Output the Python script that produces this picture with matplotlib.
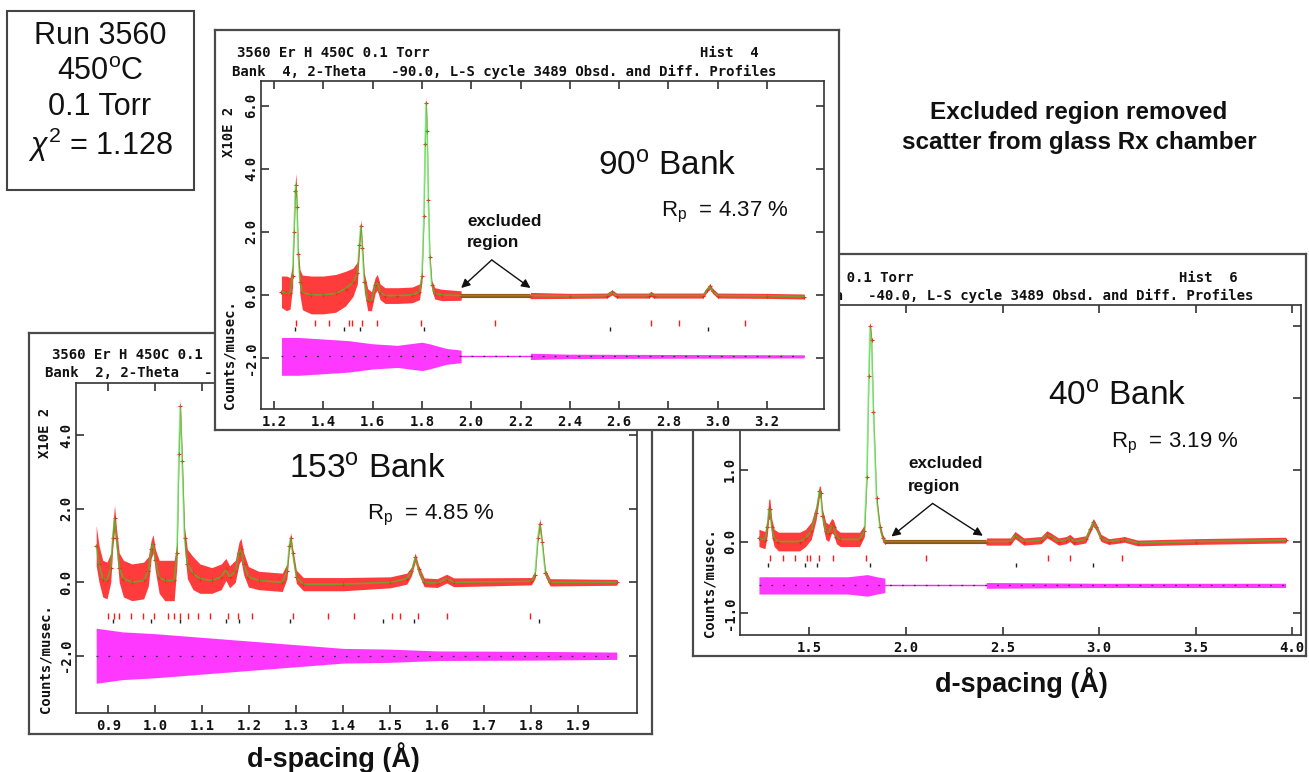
import numpy as np
import matplotlib
matplotlib.use("Agg")
import matplotlib.pyplot as plt
from matplotlib.patches import Rectangle

# ============================ DATA ============================
# ---- 153 degree bank (values in units of 10^2 counts/musec) ----
b153_d = [0.874, 0.880, 0.888, 0.897, 0.905, 0.909, 0.913, 0.917, 0.923, 0.932,
          0.950, 0.975, 0.985, 0.991, 0.995, 1.000, 1.008, 1.020, 1.040, 1.046,
          1.050, 1.053, 1.057, 1.062, 1.068, 1.080, 1.095, 1.120, 1.140, 1.150,
          1.158, 1.170, 1.178, 1.182, 1.188, 1.198, 1.220, 1.270, 1.280, 1.285,
          1.288, 1.292, 1.300, 1.315, 1.400, 1.500, 1.535, 1.545, 1.553, 1.560,
          1.572, 1.600, 1.620, 1.635, 1.800, 1.808, 1.814, 1.818, 1.823, 1.830,
          1.840, 1.982]
b153_calc = [1.00, 0.50, 0.10, 0.05, 0.40, 1.20, 1.75, 1.20, 0.40, 0.10,
             0.00, 0.05, 0.30, 0.90, 1.05, 0.60, 0.15, 0.05, 0.05, 0.80,
             3.50, 4.80, 3.30, 1.20, 0.50, 0.25, 0.10, 0.05, 0.15, 0.35,
             0.15, 0.30, 0.80, 0.90, 0.50, 0.15, 0.05, 0.00, 0.30, 1.00,
             1.20, 0.80, 0.15, -0.05, -0.05, 0.00, 0.10, 0.30, 0.68, 0.35,
             0.00, -0.02, 0.10, 0.00, 0.03, 0.20, 1.20, 1.60, 1.10, 0.25,
             0.00, 0.00]
b153_obs_spread = [0.55, 0.50, 0.50, 0.50, 0.40, 0.30, 0.35, 0.30, 0.40, 0.50,
                   0.50, 0.50, 0.40, 0.25, 0.25, 0.30, 0.45, 0.55, 0.55, 0.30,
                   0.25, 0.20, 0.25, 0.30, 0.40, 0.45, 0.40, 0.35, 0.35, 0.30,
                   0.30, 0.30, 0.30, 0.30, 0.30, 0.28, 0.25, 0.25, 0.20, 0.15,
                   0.15, 0.15, 0.18, 0.18, 0.18, 0.15, 0.15, 0.12, 0.12, 0.12,
                   0.12, 0.12, 0.12, 0.12, 0.10, 0.10, 0.10, 0.15, 0.10, 0.10,
                   0.10, 0.08]
b153_diff_d = [0.874, 0.930, 1.000, 1.100, 1.200, 1.300, 1.400, 1.500, 1.600, 1.800, 1.982]
b153_diff_amp = [0.75, 0.65, 0.60, 0.50, 0.40, 0.30, 0.20, 0.18, 0.13, 0.12, 0.10]
b153_ticks_red = [0.900, 0.911, 0.922, 0.949, 0.974, 0.998, 1.026, 1.039, 1.052, 1.069,
                  1.091, 1.117, 1.154, 1.175, 1.206, 1.293, 1.368, 1.423, 1.503, 1.520,
                  1.559, 1.620, 1.798]
b153_ticks_black = [0.909, 0.991, 1.052, 1.150, 1.178, 1.286, 1.484, 1.550, 1.817]
b153_xticks = [0.9, 1.0, 1.1, 1.2, 1.3, 1.4, 1.5, 1.6, 1.7, 1.8, 1.9]
b153_xticklabels = ["0.9", "1.0", "1.1", "1.2", "1.3", "1.4", "1.5", "1.6", "1.7", "1.8", "1.9"]
b153_yticks = [-2.0, 0.0, 2.0, 4.0]
b153_yticklabels = ["-2.0", "0.0", "2.0", "4.0"]

# ---- 90 degree bank ----
b90_d = [1.230, 1.250, 1.265, 1.275, 1.281, 1.286, 1.289, 1.293, 1.298, 1.305,
         1.315, 1.350, 1.400, 1.450, 1.490, 1.520, 1.538, 1.546, 1.552, 1.558,
         1.566, 1.580, 1.595, 1.610, 1.619, 1.630, 1.650, 1.700, 1.760, 1.790,
         1.800, 1.808, 1.813, 1.817, 1.821, 1.826, 1.832, 1.840, 1.852, 1.880,
         1.959, 2.240, 2.400, 2.550, 2.571, 2.590, 2.720, 2.729, 2.740, 2.940,
         2.955, 2.967, 2.980, 3.000, 3.200, 3.350]
b90_calc = [0.10, 0.05, 0.05, 0.60, 2.00, 3.30, 3.50, 2.80, 1.30, 0.40,
            0.08, 0.00, 0.00, 0.05, 0.20, 0.40, 0.70, 1.60, 2.20, 1.50,
            0.40, -0.15, -0.20, 0.30, 0.40, 0.10, -0.02, -0.02, 0.00, 0.10,
            0.60, 2.50, 4.80, 6.10, 5.20, 3.00, 1.20, 0.30, 0.05, 0.00,
            -0.02, -0.02, -0.03, -0.02, 0.08, -0.02, -0.02, 0.03, -0.02, -0.02,
            0.15, 0.27, 0.12, -0.02, -0.03, -0.05]
b90_obs_spread = [0.50, 0.55, 0.50, 0.35, 0.25, 0.30, 0.35, 0.25, 0.25, 0.40,
                  0.55, 0.60, 0.60, 0.60, 0.55, 0.45, 0.35, 0.25, 0.20, 0.20,
                  0.30, 0.35, 0.30, 0.25, 0.25, 0.25, 0.25, 0.25, 0.25, 0.25,
                  0.20, 0.15, 0.20, 0.20, 0.20, 0.15, 0.15, 0.15, 0.18, 0.18,
                  0.15, 0.10, 0.08, 0.08, 0.08, 0.08, 0.08, 0.08, 0.08, 0.08,
                  0.08, 0.08, 0.08, 0.08, 0.08, 0.08]
b90_excluded = [1.959, 2.240]
b90_diff_d = [1.230, 1.300, 1.400, 1.500, 1.600, 1.700, 1.800, 1.830, 1.900, 1.959,
              2.240, 2.400, 2.800, 3.350]
b90_diff_amp = [0.60, 0.60, 0.55, 0.50, 0.40, 0.35, 0.45, 0.40, 0.25, 0.20,
                0.10, 0.07, 0.06, 0.05]
b90_ticks_red = [1.288, 1.368, 1.421, 1.504, 1.516, 1.556, 1.619, 1.795, 2.096, 2.729,
                 2.842, 3.110]
b90_ticks_black = [1.283, 1.482, 1.550, 1.808, 2.563, 2.961]
b90_xticks = [1.2, 1.4, 1.6, 1.8, 2.0, 2.2, 2.4, 2.6, 2.8, 3.0, 3.2]
b90_xticklabels = ["1.2", "1.4", "1.6", "1.8", "2.0", "2.2", "2.4", "2.6", "2.8", "3.0", "3.2"]
b90_yticks = [-2.0, 0.0, 2.0, 4.0, 6.0]
b90_yticklabels = ["-2.0", "0.0", "2.0", "4.0", "6.0"]

# ---- 40 degree bank ----
b40_d = [1.239, 1.270, 1.282, 1.290, 1.296, 1.305, 1.318, 1.340, 1.450, 1.480,
         1.510, 1.535, 1.552, 1.558, 1.568, 1.585, 1.600, 1.615, 1.625, 1.640,
         1.660, 1.760, 1.785, 1.798, 1.808, 1.815, 1.822, 1.832, 1.848, 1.865,
         1.880, 1.891, 2.416, 2.540, 2.565, 2.580, 2.610, 2.700, 2.730, 2.750,
         2.790, 2.830, 2.848, 2.870, 2.930, 2.955, 2.970, 2.985, 3.010, 3.050,
         3.110, 3.130, 3.200, 3.500, 3.965]
b40_calc = [0.05, 0.02, 0.20, 0.45, 0.45, 0.20, 0.05, 0.00, 0.00, 0.05,
            0.15, 0.40, 0.70, 0.68, 0.35, 0.15, 0.12, 0.22, 0.20, 0.07,
            0.03, 0.03, 0.15, 0.90, 2.30, 3.00, 2.80, 1.80, 0.60, 0.20,
            0.05, 0.00, 0.00, 0.00, 0.09, 0.06, 0.00, 0.02, 0.10, 0.07,
            0.00, 0.02, 0.05, 0.00, 0.03, 0.18, 0.27, 0.20, 0.05, 0.00,
            0.02, 0.03, -0.02, 0.00, 0.02]
b40_obs_spread = [0.12, 0.12, 0.12, 0.14, 0.14, 0.12, 0.12, 0.13, 0.13, 0.12,
                  0.12, 0.10, 0.08, 0.08, 0.10, 0.12, 0.12, 0.10, 0.10, 0.10,
                  0.10, 0.10, 0.08, 0.06, 0.06, 0.06, 0.06, 0.06, 0.06, 0.06,
                  0.05, 0.04, 0.05, 0.05, 0.05, 0.05, 0.05, 0.05, 0.05, 0.05,
                  0.05, 0.05, 0.05, 0.05, 0.05, 0.05, 0.05, 0.05, 0.05, 0.04,
                  0.04, 0.04, 0.04, 0.04, 0.04]
b40_excluded = [1.891, 2.416]
b40_diff_d = [1.239, 1.500, 1.700, 1.800, 1.850, 1.891, 2.416, 3.000, 3.965]
b40_diff_amp = [0.12, 0.12, 0.12, 0.15, 0.12, 0.10, 0.04, 0.03, 0.03]
b40_ticks_red = [1.294, 1.366, 1.424, 1.490, 1.504, 1.551, 1.623, 1.794, 2.103, 2.735,
                 2.848, 3.119]
b40_ticks_black = [1.284, 1.479, 1.541, 1.815, 2.570, 2.967]
b40_xticks = [1.5, 2.0, 2.5, 3.0, 3.5, 4.0]
b40_xticklabels = ["1.5", "2.0", "2.5", "3.0", "3.5", "4.0"]
b40_yticks = [-1.0, 0.0, 1.0, 2.0, 3.0]
b40_yticklabels = ["-1.0", "0.0", "1.0", "2.0", "3.0"]

# ---- texts ----
run_lines = ["Run 3560", r"450$^{\mathregular{o}}$C", "0.1 Torr", r"$\chi^{\mathregular{2}}$ = 1.128"]
note_lines = ["Excluded region removed", "scatter from glass Rx chamber"]
xlabel_text = "d-spacing (\u00c5)"
hdr_line1 = "3560 Er H 450C 0.1 Torr"
# the 153-degree header is mostly hidden behind the 90-degree panel: only its visible part
b153_hdr1 = "3560 Er H 450C 0.1"
b153_hdr2 = "Bank  2, 2-Theta   -"
b90_hist, b40_hist = "Hist  4", "Hist  6"
b90_hdr2 = "Bank  4, 2-Theta   -90.0, L-S cycle 3489 Obsd. and Diff. Profiles"
b40_hdr2 = "Bank  6, 2-Theta   -40.0, L-S cycle 3489 Obsd. and Diff. Profiles"
b153_title, b90_title, b40_title = (r"153$^{\mathregular{o}}$ Bank", r"90$^{\mathregular{o}}$ Bank",
                                     r"40$^{\mathregular{o}}$ Bank")
b153_rp, b90_rp, b40_rp = (r"R$_{\mathregular{p}}$  = 4.85 %", r"R$_{\mathregular{p}}$  = 4.37 %",
                           r"R$_{\mathregular{p}}$  = 3.19 %")

# ============================ STYLE / LAYOUT ============================
plt.rcParams["font.family"] = ["Liberation Sans", "DejaVu Sans"]
plt.rcParams["mathtext.fontset"] = "custom"
plt.rcParams["mathtext.rm"] = "Liberation Sans"
plt.rcParams["mathtext.it"] = "Liberation Sans:italic"
plt.rcParams["mathtext.bf"] = "Liberation Sans:bold"

W, H = 1309, 772
MONO = "DejaVu Sans Mono"
RED = "#ff1a1a"
GREEN = "#22dd22"
MAGENTA = "#ff22ff"
BROWN = "#b0401c"
SPINE = "#333333"

fig = plt.figure(figsize=(W / 100, H / 100), dpi=100)


def fx(x):
    return x / W


def fy(y):
    return 1 - y / H


def rect(x0, y0, x1, y1):
    return [x0 / W, 1 - y1 / H, (x1 - x0) / W, (y1 - y0) / H]


def draw_panel(cfg):
    z = cfg["z"]
    axf = fig.add_axes(rect(*cfg["frame"]), zorder=z)
    axf.set_xticks([])
    axf.set_yticks([])
    axf.set_facecolor("white")
    for s in axf.spines.values():
        s.set_color("#4a4a4a")
        s.set_linewidth(1.6)
    # GSAS header lines
    hx1, hx2, hy1, hy2, hhist = cfg["hdr_pos"]
    kw = dict(transform=fig.transFigure, fontfamily=MONO, fontweight="bold",
              fontsize=10.1, va="center", ha="left", color="#111111")
    axf.text(fx(hx1), fy(hy1), cfg["hdr1"], **kw)
    if cfg["hist"]:
        axf.text(fx(hhist), fy(hy1), cfg["hist"], **kw)
    axf.text(fx(hx2), fy(hy2), cfg["hdr2"], **kw)

    ax = fig.add_axes(rect(*cfg["axes"]), zorder=z + 0.5)
    ax.set_facecolor("none")
    ax.set_xlim(*cfg["xlim"])
    ax.set_ylim(*cfg["ylim"])
    for s in ax.spines.values():
        s.set_color(SPINE)
        s.set_linewidth(1.2)
    ax.tick_params(direction="in", length=6, width=1.2, color=SPINE, top=True, right=True,
                   labelsize=10, labelcolor="#111111")
    ax.tick_params(axis="x", pad=4)
    ax.tick_params(axis="y", pad=2)
    ax.set_xticks(cfg["xticks"])
    ax.set_xticklabels(cfg["xticklabels"], fontfamily=MONO, fontweight="bold")
    ax.set_yticks(cfg["yticks"])
    ax.set_yticklabels(cfg["yticklabels"], fontfamily=MONO, fontweight="bold",
                       rotation=90, va="center")

    d = np.asarray(cfg["d"], float)
    calc = np.asarray(cfg["calc"], float)
    spread = np.asarray(cfg["spread"], float)
    excl = cfg["excl"]
    if excl:
        segs = [d <= excl[0] + 1e-9, d >= excl[1] - 1e-9]
    else:
        segs = [np.ones_like(d, bool)]
    for m in segs:
        ax.fill_between(d[m], (calc - spread)[m], (calc + spread)[m], color=RED,
                        lw=0, alpha=0.85, zorder=2)
    ax.plot(d, calc, ls="none", marker="+", ms=3.5, mew=0.8, color=RED, zorder=2.5)
    if excl:
        lo_y = calc[segs[0]][-1]
        hi_y = calc[segs[1]][0]
        ax.plot(excl, [lo_y, hi_y], color=BROWN, lw=3.0, solid_capstyle="butt", zorder=2.6)
    ax.plot(d, calc, color=GREEN, lw=1.2, alpha=0.6, zorder=3)

    # difference curve
    base = cfg["diff_base"]
    dd = np.asarray(cfg["diff_d"], float)
    da = np.asarray(cfg["diff_amp"], float)
    if excl:
        dsegs = [dd <= excl[0] + 1e-9, dd >= excl[1] - 1e-9]
    else:
        dsegs = [np.ones_like(dd, bool)]
    for m in dsegs:
        ax.fill_between(dd[m], base - da[m], base + da[m], color=MAGENTA, lw=0,
                        alpha=0.9, zorder=2)
    if excl:
        ax.plot(excl, [base, base], color=MAGENTA, lw=1.0, zorder=2)
    ax.plot([dd[0], dd[-1]], [base, base], color="#333333", lw=0.9,
            ls=(0, (1.5, 8)), zorder=3)

    # reflection tick marks
    ry, by = cfg["tick_rows"]
    ax.plot(cfg["ticks_red"], np.full(len(cfg["ticks_red"]), ry), ls="none", marker="|",
            ms=4, mew=1.0, color=RED, zorder=3)
    ax.plot(cfg["ticks_black"], np.full(len(cfg["ticks_black"]), by), ls="none", marker="|",
            ms=3.5, mew=1.0, color="#222222", zorder=3)

    # axis captions
    lx, ytop, ybot = cfg["ylab"]
    lkw = dict(transform=fig.transFigure, fontfamily=MONO, fontweight="bold",
               fontsize=10, rotation=90, ha="center", color="#111111")
    ax.text(fx(lx), fy(ytop), "X10E 2", va="top", **lkw)
    ax.text(fx(lx), fy(ybot), "Counts/musec.", va="bottom", **lkw)

    # bank title / Rp
    tx, ty, rx, ry2 = cfg["title_pos"]
    ax.text(fx(tx), fy(ty), cfg["title"], transform=fig.transFigure, fontsize=24,
            ha="left", va="center", color="#111111")
    ax.text(fx(rx), fy(ry2), cfg["rp"], transform=fig.transFigure, fontsize=16,
            ha="left", va="center", color="#111111")

    # excluded region annotation
    if cfg.get("excl_note"):
        ex, ey1, ey2, start, tips = cfg["excl_note"]
        nkw = dict(transform=fig.transFigure, fontsize=12.3, fontweight="bold",
                   ha="left", va="center", color="#111111")
        ax.text(fx(ex), fy(ey1), "excluded", **nkw)
        ax.text(fx(ex), fy(ey2), "region", **nkw)
        for tip in tips:
            ax.annotate("", xy=tip, xytext=start,
                        arrowprops=dict(arrowstyle="-|>", color="#111111", lw=1.0,
                                        mutation_scale=13, shrinkA=0, shrinkB=0),
                        zorder=4)
    return ax


panels = [
    dict(z=1, frame=(29, 333, 652, 734), axes=(76, 383, 637, 713),
         xlim=(0.831, 2.025), ylim=(-3.56, 5.43),
         d=b153_d, calc=b153_calc, spread=b153_obs_spread, excl=None,
         diff_d=b153_diff_d, diff_amp=b153_diff_amp, diff_base=-2.0,
         ticks_red=b153_ticks_red, ticks_black=b153_ticks_black, tick_rows=(-0.91, -1.06),
         xticks=b153_xticks, xticklabels=b153_xticklabels,
         yticks=b153_yticks, yticklabels=b153_yticklabels,
         hdr_pos=(52, 45, 355, 373, 0), hdr1=b153_hdr1, hist=None, hdr2=b153_hdr2,
         ylab=(45, 408, 713), title=b153_title, rp=b153_rp,
         title_pos=(289, 470, 367, 515)),
    dict(z=2, frame=(693, 254, 1306, 656), axes=(740, 305, 1301, 635),
         xlim=(1.141, 4.045), ylim=(-1.30, 3.29),
         d=b40_d, calc=b40_calc, spread=b40_obs_spread, excl=b40_excluded,
         diff_d=b40_diff_d, diff_amp=b40_diff_amp, diff_base=-0.61,
         ticks_red=b40_ticks_red, ticks_black=b40_ticks_black, tick_rows=(-0.23, -0.32),
         xticks=b40_xticks, xticklabels=b40_xticklabels,
         yticks=b40_yticks, yticklabels=b40_yticklabels,
         hdr_pos=(721, 709, 278, 296, 1179), hdr1=hdr_line1, hist=b40_hist, hdr2=b40_hdr2,
         ylab=(710, 331, 637), title=b40_title, rp=b40_rp,
         title_pos=(1048, 397, 1111, 443),
         excl_note=(908, 463, 487, (2.138, 0.53), [(1.925, 0.07), (2.398, 0.08)])),
    dict(z=3, frame=(215, 30, 839, 430), axes=(261, 81, 824, 409),
         xlim=(1.147, 3.431), ylim=(-3.62, 6.79),
         d=b90_d, calc=b90_calc, spread=b90_obs_spread, excl=b90_excluded,
         diff_d=b90_diff_d, diff_amp=b90_diff_amp, diff_base=-1.95,
         ticks_red=b90_ticks_red, ticks_black=b90_ticks_black, tick_rows=(-0.90, -1.09),
         xticks=b90_xticks, xticklabels=b90_xticklabels,
         yticks=b90_yticks, yticklabels=b90_yticklabels,
         hdr_pos=(237, 232, 53, 72, 700), hdr1=hdr_line1, hist=b90_hist, hdr2=b90_hdr2,
         ylab=(229, 107, 409), title=b90_title, rp=b90_rp,
         title_pos=(598, 167, 661, 212),
         excl_note=(467, 222, 243, (2.083, 1.11), [(1.959, 0.22), (2.240, 0.22)])),
]

for cfg in panels:
    draw_panel(cfg)

# run information box
fig.add_artist(Rectangle((fx(7), fy(190)), (194 - 7) / W, (190 - 11) / H,
                         transform=fig.transFigure, fill=False, ec="#444444", lw=1.5,
                         zorder=10))
for yy, s in zip([36, 72, 107, 145], run_lines):
    fig.text(fx(100), fy(yy), s, fontsize=22, ha="center", va="center", color="#111111",
             zorder=10)

# note text top right
for yy, s in zip([112, 143], note_lines):
    fig.text(fx(1079), fy(yy), s, fontsize=17.5, fontweight="bold", ha="center",
             va="center", color="#111111", zorder=10)

# d-spacing captions
fig.text(fx(333), fy(758), xlabel_text, fontsize=19.5, fontweight="bold", ha="center",
         va="center", color="#111111", zorder=10)
fig.text(fx(1021), fy(683), xlabel_text, fontsize=19.5, fontweight="bold", ha="center",
         va="center", color="#111111", zorder=10)

fig.savefig("out.png", dpi=100, facecolor="white")
